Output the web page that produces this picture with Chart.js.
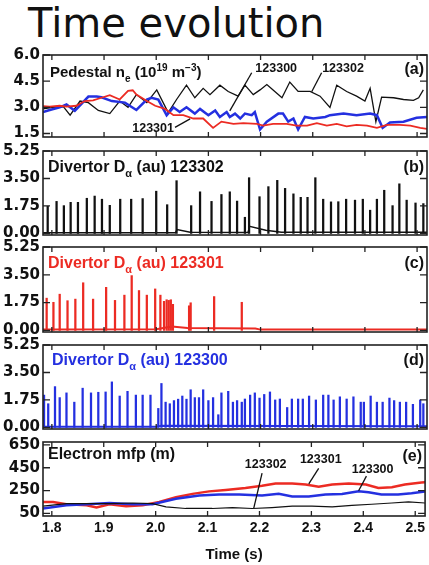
<!DOCTYPE html>
<html>
<head>
<meta charset="utf-8">
<script src="https://cdn.jsdelivr.net/npm/chart.js@4.4.0/dist/chart.umd.min.js"></script>
<style>
  html, body { margin: 0; padding: 0; background: #fff; }
  #page { position: relative; width: 429px; height: 565px; overflow: hidden; background: #fff; }
  #title { position: absolute; left: 28px; top: 3px; font: 40px/1 "DejaVu Sans", sans-serif; color: #111; white-space: nowrap; }
  canvas { position: absolute; left: 0; }
</style>
</head>
<body>
<div id="page">
  <div id="title">Time evolution</div>
  <canvas id="chartA" width="429" height="106" style="top:43px"></canvas>
  <canvas id="chartB" width="429" height="108" style="top:139px"></canvas>
  <canvas id="chartC" width="429" height="109" style="top:235px"></canvas>
  <canvas id="chartD" width="429" height="108" style="top:333px"></canvas>
  <canvas id="chartE" width="429" height="135" style="top:430px"></canvas>
</div>
<script>
// time axis shared by all panels
const timeTicks = [1.8, 1.9, 2.0, 2.1, 2.2, 2.3, 2.4, 2.5];
const timeLabels = ['1.8', '1.9', '2.0', '2.1', '2.2', '2.3', '2.4', '2.5'];

// (a) pedestal density
const neTicks = [1.5, 3.0, 4.5, 6.0];
const neLabels = ['1.5', '3.0', '4.5', '6.0'];
const ne302T = [1.783,1.802,1.822,1.835,1.854,1.870,1.889,1.911,1.930,1.946,1.962,1.982,2.001,2.023,2.039,2.058,2.074,2.090,2.103,2.122,2.138,2.157,2.170,2.186,2.199,2.212,2.224,2.241,2.256,2.272,2.295,2.314,2.333,2.346,2.365,2.384,2.400,2.410,2.421,2.432,2.455,2.474,2.493,2.503,2.512];
const ne302 = [2.91,3.00,3.04,2.55,3.36,3.27,2.82,2.64,3.36,3.00,3.73,3.27,4.00,2.70,3.45,4.27,3.55,4.09,3.73,4.27,3.91,3.64,4.27,3.73,4.00,4.31,4.00,3.55,4.45,3.91,3.91,3.64,3.00,4.27,3.91,3.64,3.36,4.09,2.18,3.58,3.55,3.45,3.40,3.55,4.00];
const ne301T = [1.783,1.796,1.815,1.828,1.847,1.863,1.879,1.895,1.911,1.930,1.946,1.955,1.962,1.982,1.998,2.017,2.033,2.052,2.071,2.090,2.109,2.125,2.148,2.167,2.193,2.205,2.224,2.250,2.269,2.289,2.308,2.327,2.346,2.365,2.384,2.404,2.423,2.442,2.467,2.487,2.506,2.519];
const ne301 = [3.07,3.04,3.09,3.04,3.09,3.36,3.40,3.55,3.70,3.45,3.94,3.98,3.73,3.36,3.09,2.91,2.55,2.55,2.36,2.36,1.82,2.18,2.05,2.09,2.05,1.95,2.05,2.05,1.95,1.95,2.09,1.95,2.05,1.91,2.00,1.95,1.82,2.00,2.00,1.95,1.82,1.76];
const ne300T = [1.783,1.796,1.815,1.828,1.844,1.870,1.886,1.895,1.915,1.940,1.962,1.982,1.991,2.004,2.020,2.033,2.045,2.058,2.074,2.084,2.100,2.113,2.122,2.135,2.141,2.151,2.161,2.170,2.183,2.189,2.199,2.212,2.234,2.243,2.253,2.263,2.272,2.285,2.301,2.324,2.333,2.359,2.384,2.410,2.423,2.434,2.448,2.474,2.499,2.519];
const ne300 = [2.73,2.85,3.00,3.16,2.80,3.62,3.62,3.58,3.36,3.27,2.85,3.44,3.55,3.44,2.55,3.00,2.73,3.00,2.64,2.91,2.55,2.82,2.45,2.73,2.45,2.64,2.36,2.64,2.55,2.73,1.73,2.18,2.64,2.64,2.18,2.36,1.73,2.45,2.36,2.45,2.55,2.64,2.55,2.64,2.55,1.82,2.13,2.18,2.40,2.45];

// (b)-(d) divertor D-alpha: ELM spike times and peak heights, plus the baseline
const daTicks = [0, 1.75, 3.5, 5.25];
const daLabels = ['0.00', '1.75', '3.50', '5.25'];
const b302T = [1.792,1.809,1.823,1.836,1.850,1.867,1.882,1.896,1.911,1.931,1.952,1.974,2.000,2.021,2.039,2.067,2.084,2.106,2.125,2.141,2.155,2.170,2.178,2.198,2.215,2.232,2.247,2.263,2.277,2.290,2.305,2.320,2.335,2.349,2.364,2.381,2.396,2.410,2.423,2.437,2.453,2.466,2.480,2.497,2.512];
const b302H = [1.73,2.04,1.77,1.98,1.98,2.24,2.38,2.18,1.79,2.18,2.18,2.22,2.69,1.83,3.36,1.77,2.65,2.04,2.48,2.65,2.06,1.03,3.55,2.34,2.98,3.38,2.87,2.52,2.30,2.30,3.55,2.18,2.01,2.02,2.18,2.12,2.18,1.48,2.18,2.75,1.77,3.16,2.12,1.94,1.90];
const b302BaseT = [1.783,2.037,2.040,2.065,2.176,2.179,2.210,2.240,2.519];
const b302BaseV = [0.05,0.05,0.25,0.08,0.06,0.45,0.20,0.07,0.07];

const c301T = [1.790,1.803,1.815,1.830,1.845,1.860,1.879,1.904,1.921,1.939,1.953,1.967,1.982,1.998,2.008,2.015,2.020,2.024,2.028,2.032,2.063,2.066,2.111,2.164];
const c301H = [2.03,1.77,2.28,1.87,1.97,3.00,1.97,2.71,1.89,2.22,3.45,2.51,2.22,2.61,2.22,1.83,1.93,1.89,1.93,1.64,1.55,1.74,2.13,1.77];
const c301BaseT = [1.783,2.000,2.030,2.060,2.190,2.200,2.519];
const c301BaseV = [0.05,0.08,0.25,0.15,0.12,0.05,0.05];

const d300T = [1.785,1.793,1.806,1.815,1.828,1.843,1.859,1.875,1.889,1.903,1.915,1.930,1.945,1.961,1.974,1.989,2.004,2.010,2.018,2.026,2.034,2.042,2.050,2.058,2.066,2.074,2.082,2.090,2.100,2.109,2.119,2.125,2.138,2.147,2.155,2.164,2.170,2.180,2.189,2.198,2.207,2.218,2.228,2.237,2.251,2.260,2.272,2.281,2.293,2.306,2.320,2.330,2.340,2.352,2.365,2.378,2.392,2.398,2.411,2.423,2.434,2.447,2.456,2.467,2.479,2.492,2.506,2.512];
const d300H = [2.06,1.51,2.60,1.90,2.20,1.61,2.50,2.20,2.24,2.26,2.90,2.00,2.30,2.06,2.06,2.06,1.21,2.80,1.61,1.51,1.71,1.80,2.00,1.80,2.40,1.90,1.90,2.40,1.71,1.90,0.81,2.20,2.30,1.61,1.71,1.61,1.81,2.06,2.20,1.87,2.10,2.26,1.75,1.81,1.27,1.81,1.81,1.81,2.00,1.75,2.06,2.06,1.75,1.95,1.81,1.95,1.61,1.61,2.00,1.61,1.61,1.87,1.71,1.61,1.61,1.47,1.75,1.51];
const d300BaseT = [1.783,2.000,2.010,2.519];
const d300BaseV = [0.05,0.05,0.10,0.08];

// (e) electron mean free path
const mfpTicks = [50, 250, 450, 650];
const mfpLabels = ['50', '250', '450', '650'];
const mfp302T = [1.783,1.828,1.867,1.911,1.956,1.994,2.020,2.058,2.109,2.148,2.186,2.224,2.263,2.301,2.340,2.378,2.416,2.455,2.487,2.519];
const mfp302 = [113,136,136,136,141,136,107,93,93,101,93,101,113,113,107,121,130,141,150,141];
const mfp301T = [1.783,1.8025,1.828,1.867,1.886,1.911,1.943,1.975,2.007,2.039,2.071,2.103,2.135,2.173,2.205,2.231,2.263,2.289,2.314,2.340,2.372,2.405,2.429,2.455,2.480,2.512,2.519];
const mfp301 = [150,150,130,121,101,130,113,121,150,192,221,243,255,272,292,311,311,303,283,303,311,303,272,280,303,320,322];
const mfp300T = [1.783,1.828,1.867,1.911,1.956,1.994,2.039,2.084,2.122,2.161,2.205,2.237,2.263,2.295,2.327,2.359,2.391,2.410,2.435,2.467,2.493,2.519];
const mfp300 = [93,121,130,141,130,130,178,207,215,215,207,221,198,198,215,221,243,235,215,215,226,243];

const RED = '#ec2b23', BLUE = '#2430e0', BLACK = '#111';
const FONT = '"Liberation Sans", Arial, sans-serif';
const xMin = 1.783, xMax = 2.519;

const pts = (ts, vs) => ts.map((t, i) => ({x: t, y: vs[i]}));
const line = (ts, vs, color, w) => ({type: 'line', data: pts(ts, vs), borderColor: color, borderWidth: w, pointRadius: 0, tension: 0, fill: false});
const spikes = (ts, vs, color) => ({type: 'bar', data: pts(ts, vs), backgroundColor: color, borderWidth: 0, barThickness: 1.6, grouped: false});

function richText(ctx, parts, x, y, size, color) {
  ctx.fillStyle = color;
  ctx.textAlign = 'left';
  ctx.textBaseline = 'alphabetic';
  for (const [s, k] of parts) {
    const fs = k ? Math.round(size * 0.66) : size;
    ctx.font = `bold ${fs}px ${FONT}`;
    const dy = k === 'sub' ? size * 0.3 : k === 'sup' ? -size * 0.42 : 0;
    ctx.fillText(s, x, y + dy);
    x += ctx.measureText(s).width;
  }
}

// box, inward ticks, panel heading and shot labels
const framePlugin = {
  id: 'frame',
  afterDraw(chart, args, o) {
    const {ctx, chartArea: a, scales: {x, y}} = chart;
    ctx.save();
    ctx.strokeStyle = '#222';
    ctx.lineWidth = 1.6;
    ctx.strokeRect(a.left, a.top, a.width, a.height);
    ctx.lineWidth = 1.3;
    ctx.beginPath();
    timeTicks.forEach(v => {
      const px = x.getPixelForValue(v);
      ctx.moveTo(px, a.bottom); ctx.lineTo(px, a.bottom - 5);
      ctx.moveTo(px, a.top); ctx.lineTo(px, a.top + 5);
    });
    y.ticks.forEach(t => {
      const py = y.getPixelForValue(t.value);
      ctx.moveTo(a.left, py); ctx.lineTo(a.left + 7, py);
      ctx.moveTo(a.right, py); ctx.lineTo(a.right - 7, py);
    });
    ctx.stroke();

    richText(ctx, o.heading, a.left + o.dx, a.top + o.dy, o.size || 16, o.color);
    ctx.font = `bold 16px ${FONT}`;
    ctx.fillStyle = BLACK;
    ctx.textAlign = 'right';
    ctx.fillText(o.tag, a.right - 3, a.top + o.tagDy);

    (o.notes || []).forEach(n => {
      ctx.font = `bold 12.5px ${FONT}`;
      ctx.fillStyle = BLACK;
      ctx.textAlign = 'center';
      ctx.textBaseline = 'middle';
      ctx.fillText(n.text, x.getPixelForValue(n.at[0]), y.getPixelForValue(n.at[1]));
      ctx.beginPath();
      ctx.moveTo(x.getPixelForValue(n.from[0]), y.getPixelForValue(n.from[1]));
      ctx.lineTo(x.getPixelForValue(n.to[0]), y.getPixelForValue(n.to[1]));
      ctx.lineWidth = 1.3;
      ctx.strokeStyle = BLACK;
      ctx.stroke();
    });
    ctx.restore();
  }
};

function panel(id, datasets, yMin, yMax, yTicks, yLabels, frame, withTime) {
  const xAxis = {
    type: 'linear', min: xMin, max: xMax, offset: false, display: withTime,
    afterBuildTicks: s => { s.ticks = timeTicks.map(v => ({value: v})); },
    grid: {display: false, drawTicks: false, offset: false},
    border: {display: false},
    ticks: {callback: (v, i) => timeLabels[i], font: {family: FONT, weight: 'bold', size: 14}, color: BLACK, padding: 4, maxRotation: 0, autoSkip: false},
    title: {display: withTime, text: 'Time (s)', font: {family: FONT, weight: 'bold', size: 15}, color: BLACK, padding: {top: 0, bottom: 1}}
  };
  if (withTime) xAxis.afterFit = s => { s.height = 49; };
  return new Chart(document.getElementById(id), {
    type: 'line',
    data: {datasets},
    options: {
      responsive: false,
      animation: false,
      layout: {padding: {top: 10, bottom: withTime ? 0 : 10, left: 0, right: 2}},
      plugins: {legend: {display: false}, tooltip: {enabled: false}, frame},
      scales: {
        x: xAxis,
        y: {
          min: yMin, max: yMax,
          afterBuildTicks: s => { s.ticks = yTicks.map(v => ({value: v})); },
          afterFit: s => { s.width = 43; },
          grid: {display: false, drawTicks: false},
          border: {display: false},
          ticks: {callback: (v, i) => yLabels[i], font: {family: '"DejaVu Sans", sans-serif', weight: 'bold', size: 15}, color: BLACK, padding: 3, autoSkip: false}
        }
      }
    },
    plugins: [framePlugin]
  });
}

const daHeading = shot => [['Divertor D'], ['\u03b1', 'sub'], [' (au) ' + shot]];

panel('chartA', [
  line(ne301T, ne301, RED, 1.8),
  line(ne300T, ne300, BLUE, 2.5),
  line(ne302T, ne302, BLACK, 1.3)
], 1.3, 6.0, neTicks, neLabels, {
  heading: [['Pedestal n'], ['e', 'sub'], [' (10'], ['19', 'sup'], [' m'], ['\u22123', 'sup'], [')']],
  size: 15, color: BLACK, dx: 7, dy: 22, tag: '(a)', tagDy: 19,
  notes: [
    {text: '123300', at: [2.230, 5.24], from: [2.183, 4.98], to: [2.141, 2.80]},
    {text: '123302', at: [2.358, 5.24], from: [2.317, 4.98], to: [2.298, 3.89]},
    {text: '123301', at: [1.994, 1.80], from: [2.036, 1.85], to: [2.065, 2.34]}
  ]
}, false);

panel('chartB', [
  line(b302BaseT, b302BaseV, BLACK, 1.5),
  spikes(b302T, b302H, BLACK)
], -0.1, 5.25, daTicks, daLabels, {heading: daHeading('123302'), color: BLACK, dx: 5, dy: 21, tag: '(b)', tagDy: 21}, false);

panel('chartC', [
  line(c301BaseT, c301BaseV, RED, 2),
  spikes(c301T, c301H, RED)
], -0.1, 5.25, daTicks, daLabels, {heading: daHeading('123301'), color: RED, dx: 5, dy: 21, tag: '(c)', tagDy: 21}, false);

panel('chartD', [
  line(d300BaseT, d300BaseV, BLUE, 2),
  spikes(d300T, d300H, BLUE)
], -0.1, 5.25, daTicks, daLabels, {heading: daHeading('123300'), color: BLUE, dx: 9, dy: 20, tag: '(d)', tagDy: 20}, false);

panel('chartE', [
  line(mfp302T, mfp302, BLACK, 1.2),
  line(mfp300T, mfp300, BLUE, 2.5),
  line(mfp301T, mfp301, RED, 2.5)
], 27, 676, mfpTicks, mfpLabels, {
  heading: [['Electron mfp (m)']],
  color: BLACK, dx: 5, dy: 17, tag: '(e)', tagDy: 19,
  notes: [
    {text: '123302', at: [2.212, 479], from: [2.205, 403], to: [2.189, 96]},
    {text: '123301', at: [2.318, 522], from: [2.314, 445], to: [2.295, 309]},
    {text: '123300', at: [2.418, 437], from: [2.406, 377], to: [2.391, 249]}
  ]
}, true);
</script>
</body>
</html>
